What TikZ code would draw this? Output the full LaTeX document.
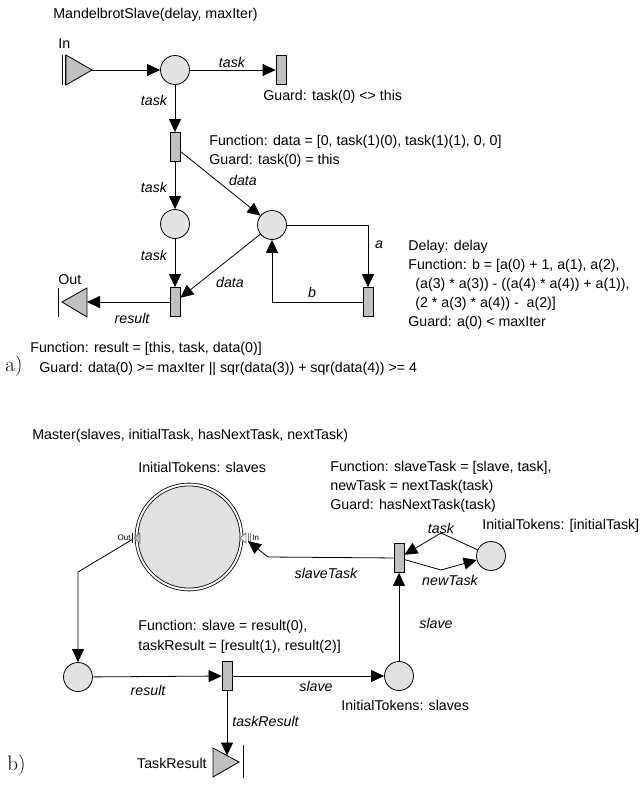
\documentclass[tikz,border=0pt]{standalone}
\usepackage{fontspec}
\newfontfamily\arialfont{Liberation Sans}
\usetikzlibrary{arrows.meta}
\definecolor{placegray}{RGB}{226,226,226}
\definecolor{transgray}{RGB}{192,192,192}
\newcommand\netfont{\arialfont\fontsize{14.2}{16}\selectfont}

\begin{document}
\begin{tikzpicture}[x=1pt, y=-1pt, line width=.8pt, font=\netfont,
    place/.style={circle, draw, fill=placegray, minimum size=29pt, inner sep=0pt},
    trans/.style={rectangle, draw, fill=transgray, minimum width=10pt, minimum height=29pt, inner sep=0pt},
    arc/.style={-{Triangle[length=13pt, width=12pt]}},
    txt/.style={anchor=west, inner sep=0pt, text height=10pt, text depth=0pt},
    lbl/.style={inner sep=0pt, font=\netfont\itshape, text height=10pt, text depth=0pt},
    port/.style={draw, fill=transgray},
    tag/.style={anchor=base west, inner sep=0pt, font=\fontsize{21}{24}\selectfont}]
    \useasboundingbox (0,0) rectangle (640,787);

    % a) slave net
    \node[txt] (titleA) at (53,14) {MandelbrotSlave(delay, maxIter)};
    \node[txt] (inName) at (58,43) {In};
    \draw[port] (66,55) -- (92,70) -- (66,85) -- cycle;
    \draw (62.5,55) -- (62.5,85) (65,55) -- (65,85);
    \coordinate (inTip) at (92,70);
    \node[place] (sIn) at (175,70) {};
    \node[trans] (tOther) at (281,70) {};
    \node[trans] (tInit) at (175,147) {};
    \node[place] (sTask) at (175,224) {};
    \node[place] (sData) at (272,225) {};
    \node[trans] (tResult) at (175,302) {};
    \node[trans] (tIter) at (368,302) {};
    \draw[port] (87,288) -- (62,302) -- (87,317) -- cycle;
    \draw (58,288) -- (58,317);
    \coordinate (outBase) at (87,302);
    \node[txt] (outName) at (58,279) {Out};

    \draw[arc] (inTip) -- (sIn);
    \draw[arc] (sIn) -- (tOther);
    \draw[arc] (sIn) -- (tInit);
    \draw[arc] (tInit) -- (sTask);
    \draw[arc] (tInit) -- (sData);
    \draw[arc] (sTask) -- (tResult);
    \draw[arc] (sData) -- (tResult);
    \draw[arc] (sData) -| (tIter);
    \draw[arc] (tIter) -| (sData);
    \draw[arc] (tResult) -- (outBase);

    \node[lbl] (lTask1) at (232,62) {task};
    \node[lbl] (lTask2) at (154,100) {task};
    \node[lbl] (lData1) at (243,180) {data};
    \node[lbl] (lTask3) at (154,187) {task};
    \node[lbl] (lTask4) at (154,255) {task};
    \node[lbl] (lData2) at (230,282) {data};
    \node[lbl] (lA) at (379,243) {a};
    \node[lbl] (lB) at (312,292) {b};
    \node[lbl] (lResult) at (132,318) {result};

    \node[txt] (gOther) at (263,95) {Guard: task(0) <> this};
    \node[txt] (fInit) at (209,140) {Function: data = [0, task(1)(0), task(1)(1), 0, 0]};
    \node[txt] (gInit) at (209,159) {Guard: task(0) = this};
    \node[txt] (dIter) at (408,245) {Delay: delay};
    \node[txt] (fIter1) at (408,264) {Function: b = [a(0) + 1, a(1), a(2),};
    \node[txt] (fIter2) at (415,283) {(a(3) * a(3)) - ((a(4) * a(4)) + a(1)),};
    \node[txt] (fIter3) at (415,302) {(2 * a(3) * a(4)) - \ a(2)]};
    \node[txt] (gIter) at (408,321) {Guard: a(0) < maxIter};
    \node[txt] (fResult) at (30,347) {Function: result = [this, task, data(0)]};
    \node[txt] (gResult) at (39,367) {Guard: data(0) >= maxIter || sqr(data(3)) + sqr(data(4)) >= 4};
    \node[tag] (tagA) at (5,371) {a)};

    % b) master net
    \node[txt] (titleB) at (32,434) {Master(slaves, initialTask, hasNextTask, nextTask)};
    \node[txt] (iPool) at (138,467) {InitialTokens: slaves};
    \node[place, minimum size=105pt, double, double distance=2pt] (sPool) at (189,537) {};
    \draw (132,533) -- (132,543);
    \draw[gray, fill=transgray] (140,533) -- (134,538) -- (140,543) -- cycle;
    \draw[gray, fill=white] (246,533) -- (240,538) -- (246,543) -- cycle;
    \draw[gray] (248,533) -- (248,543) (250.5,533) -- (250.5,543);
    \node[anchor=east, inner sep=0pt, font=\arialfont\fontsize{8}{9}\selectfont] (outPort) at (131,538) {Out};
    \node[anchor=west, inner sep=0pt, font=\arialfont\fontsize{8}{9}\selectfont] (inPort) at (252,538) {In};
    \coordinate (poolOut) at (133,539);
    \coordinate (poolIn) at (248,541);

    \node[trans] (tDispatch) at (399,558) {};
    \node[place] (sNext) at (491,556) {};
    \node[place] (sCollect) at (78,677) {};
    \node[trans] (tCollect) at (227,676) {};
    \node[place] (sSlaves) at (399,676) {};
    \draw[port] (213,748) -- (239,762) -- (213,777) -- cycle;
    \draw (243,745) -- (243,778);
    \coordinate (resTop) at (227,755.5);

    \coordinate (taskBend) at (441,533);
    \coordinate (newBend) at (441,570);
    \coordinate (slaveBend) at (268,557);
    \coordinate (outBend) at (78,572);
    \draw[arc] (sNext) -- (taskBend) -- (tDispatch);
    \draw[arc] (tDispatch) -- (newBend) -- (sNext);
    \draw[arc] (tDispatch) -- (slaveBend) -- (poolIn);
    \draw[arc] (poolOut) -- (outBend) -- (sCollect);
    \draw[arc] (sCollect) -- (tCollect);
    \draw[arc] (tCollect) -- (sSlaves);
    \draw[arc] (sSlaves) -- (tDispatch);
    \draw[arc] (tCollect) -- (resTop);

    \node[lbl] (lTask5) at (441,528) {task};
    \node[lbl] (lNewTask) at (450,580) {newTask};
    \node[lbl] (lSlaveTask) at (326,573) {slaveTask};
    \node[lbl] (lSlave1) at (436,623) {slave};
    \node[lbl] (lResult2) at (148,690) {result};
    \node[lbl] (lSlave2) at (316,686) {slave};
    \node[lbl, anchor=west] (lTaskRes) at (232,721) {taskResult};

    \node[txt] (fDispatch1) at (330,466) {Function: slaveTask = [slave, task],};
    \node[txt] (fDispatch2) at (330,485) {newTask = nextTask(task)};
    \node[txt] (gDispatch) at (330,504) {Guard: hasNextTask(task)};
    \node[txt] (iNext) at (482,524) {InitialTokens: [initialTask]};
    \node[txt] (fCollect1) at (138,625) {Function: slave = result(0),};
    \node[txt] (fCollect2) at (138,645) {taskResult = [result(1), result(2)]};
    \node[txt] (iSlaves) at (341,705) {InitialTokens: slaves};
    \node[txt, anchor=east] (resName) at (207,763) {TaskResult};
    \node[tag] (tagB) at (7,770) {b)};
\end{tikzpicture}
\end{document}
